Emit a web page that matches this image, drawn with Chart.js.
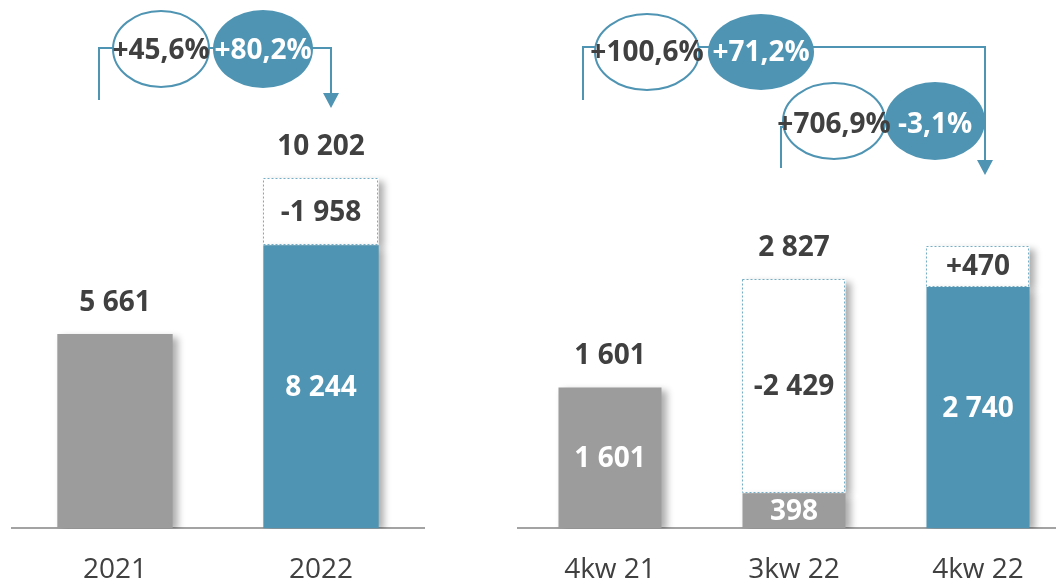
<!DOCTYPE html>
<html>
<head>
<meta charset="utf-8">
<script src="https://cdn.jsdelivr.net/npm/chart.js@4.4.1/dist/chart.umd.min.js"></script>
<style>
  html, body { margin: 0; padding: 0; background: #fff; overflow: hidden; width: 1056px; height: 582px; }
  canvas { position: absolute; top: 0; }
  #left { left: 0; }
  #right { left: 506px; }
</style>
</head>
<body>
<canvas id="left" width="440" height="626"></canvas>
<canvas id="right" width="580" height="626"></canvas>
<script>
// ---- data ----
var yearLabels = ['2021', '2022'];
var yearBase = [5661, 8244];
var yearChange = [null, -1958];
var yearTotals = [5661, 10202];
var yearInner = [null, 8244];
var yearGrowth = ['+45,6%', '+80,2%'];

var quarterLabels = ['4kw 21', '3kw 22', '4kw 22'];
var quarterBase = [1601, 398, 2740];
var quarterChange = [null, -2429, 470];
var quarterTotals = [1601, 2827, null];
var quarterInner = [1601, 398, 2740];
var quarterGrowthTop = ['+100,6%', '+71,2%'];
var quarterGrowthMid = ['+706,9%', '-3,1%'];

var GRAY = '#9c9c9c';
var BLUE = '#4f94b3';
var DARK = '#404040';
var FONT = '"Open Sans", sans-serif';

function fmt(v) {
  var s = String(Math.abs(v)).replace(/\B(?=(\d{3})+(?!\d))/g, ' ');
  return s;
}
function signed(v) {
  return (v < 0 ? '-' : '+') + fmt(v);
}

/*-- shadow for bars --*/
var shadowPlugin = {
  id: 'shadow',
  beforeDatasetDraw: function (chart) {
    var ctx = chart.ctx;
    ctx.save();
    ctx.shadowColor = 'rgba(0,0,0,0.32)';
    ctx.shadowBlur = 7;
    ctx.shadowOffsetX = 5;
    ctx.shadowOffsetY = 3;
  },
  afterDatasetDraw: function (chart) {
    chart.ctx.restore();
  }
};

/*-- dashed boxes and value labels --*/
var labelPlugin = {
  id: 'labels',
  afterDatasetsDraw: function (chart, args, opts) {
    var ctx = chart.ctx;
    var base = chart.getDatasetMeta(0).data;
    var chg = chart.getDatasetMeta(1).data;
    ctx.save();
    // dashed outline of change boxes
    ctx.strokeStyle = '#74adc6';
    ctx.lineWidth = 1;
    ctx.setLineDash([2, 2]);
    chg.forEach(function (el, i) {
      if (opts.change[i] == null) return;
      var w = el.width;
      ctx.strokeRect(Math.round(el.x - w / 2) + 0.5, Math.round(el.y) + 0.5, Math.round(w) - 1, Math.round(el.base - el.y) - 1);
    });
    ctx.setLineDash([]);
    ctx.textAlign = 'center';
    ctx.textBaseline = 'middle';
    ctx.font = 'bold 28px ' + FONT;
    base.forEach(function (el, i) {
      if (opts.inner[i] != null) {
        ctx.fillStyle = '#fff';
        ctx.fillText(fmt(opts.inner[i]), el.x, (el.y + el.base) / 2 + 1);
      }
      var c = chg[i];
      if (opts.change[i] != null) {
        ctx.fillStyle = DARK;
        ctx.fillText(signed(opts.change[i]), c.x, (c.y + c.base) / 2 + 1);
      }
      if (opts.totals[i] != null) {
        var top = opts.change[i] != null ? c.y : el.y;
        ctx.fillStyle = DARK;
        ctx.fillText(fmt(opts.totals[i]), el.x, top - 31);
      }
    });
    ctx.restore();
  }
};

function ellipse(ctx, x, y, rx, ry, filled) {
  ctx.beginPath();
  ctx.ellipse(x, y, rx, ry, 0, 0, Math.PI * 2);
  if (filled) {
    ctx.fillStyle = BLUE;
    ctx.fill();
  } else {
    ctx.fillStyle = '#fff';
    ctx.fill();
    ctx.strokeStyle = BLUE;
    ctx.lineWidth = 2;
    ctx.stroke();
  }
}
function arrowHead(ctx, x, tip) {
  ctx.beginPath();
  ctx.moveTo(x - 8, tip - 15);
  ctx.lineTo(x + 8, tip - 15);
  ctx.lineTo(x, tip);
  ctx.closePath();
  ctx.fillStyle = BLUE;
  ctx.fill();
}
function growthText(ctx, txt, x, y, white) {
  ctx.font = 'bold 28px ' + FONT;
  ctx.textAlign = 'center';
  ctx.textBaseline = 'middle';
  ctx.fillStyle = white ? '#fff' : DARK;
  ctx.fillText(txt, x, y);
}

/*-- growth bubbles, left chart --*/
var yearGrowthPlugin = {
  id: 'yearGrowth',
  afterDraw: function (chart) {
    var ctx = chart.ctx;
    var b = chart.getDatasetMeta(0).data;
    var x0 = b[0].x, x1 = b[1].x;
    ctx.save();
    ctx.strokeStyle = BLUE;
    ctx.lineWidth = 2;
    ctx.beginPath();
    ctx.moveTo(x0 - 16, 100);
    ctx.lineTo(x0 - 16, 48);
    ctx.lineTo(x1 + 10, 48);
    ctx.lineTo(x1 + 10, 94);
    ctx.stroke();
    arrowHead(ctx, x1 + 10, 108);
    ellipse(ctx, x0 + 46, 49, 48, 38, false);
    ellipse(ctx, x1 - 58, 49, 50, 39, true);
    growthText(ctx, yearGrowth[0], x0 + 46, 51, false);
    growthText(ctx, yearGrowth[1], x1 - 58, 51, true);
    ctx.restore();
  }
};

/*-- growth bubbles, right chart --*/
var quarterGrowthPlugin = {
  id: 'quarterGrowth',
  afterDraw: function (chart) {
    var ctx = chart.ctx;
    var b = chart.getDatasetMeta(0).data;
    var x0 = b[0].x, x1 = b[1].x, x2 = b[2].x;
    ctx.save();
    ctx.strokeStyle = BLUE;
    ctx.lineWidth = 2;
    ctx.beginPath();
    ctx.moveTo(x0 - 27, 100);
    ctx.lineTo(x0 - 27, 47);
    ctx.lineTo(x2 + 7, 47);
    ctx.lineTo(x2 + 7, 162);
    ctx.stroke();
    arrowHead(ctx, x2 + 7, 175);
    ctx.beginPath();
    ctx.moveTo(x1 - 13, 168);
    ctx.lineTo(x1 - 13, 127);
    ctx.lineTo(x1 + 5, 127);
    ctx.stroke();
    ellipse(ctx, x0 + 37, 52, 52, 38, false);
    ellipse(ctx, x1 - 33, 52, 53, 38, true);
    ellipse(ctx, x1 + 40, 121, 51, 38, false);
    ellipse(ctx, x2 - 43, 121, 50, 39, true);
    growthText(ctx, quarterGrowthTop[0], x0 + 37, 53, false);
    growthText(ctx, quarterGrowthTop[1], x1 - 33, 53, true);
    growthText(ctx, quarterGrowthMid[0], x1 + 40, 125, false);
    growthText(ctx, quarterGrowthMid[1], x2 - 43, 125, true);
    ctx.restore();
  }
};

function makeChart(id, labels, baseVals, changeVals, colors, yMax, labelOpts, growthPlugin) {
  return new Chart(document.getElementById(id), {
    type: 'bar',
    data: {
      labels: labels,
      datasets: [{
        data: baseVals,
        backgroundColor: colors,
        borderWidth: 0,
        barPercentage: 0.56,
        categoryPercentage: 1
      }, {
        data: changeVals.map(function (v) { return v == null ? null : Math.abs(v); }),
        backgroundColor: '#fff',
        borderWidth: 0,
        barPercentage: 0.56,
        categoryPercentage: 1
      }]
    },
    options: {
      responsive: false,
      animation: false,
      layout: { padding: { left: 12, right: 16, top: 0, bottom: 14 } },
      plugins: {
        legend: { display: false },
        tooltip: { enabled: false },
        labels: labelOpts
      },
      scales: {
        x: {
          stacked: true,
          grid: { display: false, drawTicks: false },
          border: { display: true, color: '#a3a3a3', width: 2 },
          ticks: { color: DARK, padding: 25, font: { family: FONT, size: 28 } }
        },
        y: {
          stacked: true,
          display: false,
          min: 0,
          max: yMax
        }
      }
    },
    plugins: [shadowPlugin, labelPlugin, growthPlugin]
  });
}

makeChart('left', yearLabels, yearBase, yearChange, [GRAY, BLUE], 15380,
  { change: yearChange, totals: yearTotals, inner: yearInner }, yearGrowthPlugin);
makeChart('right', quarterLabels, quarterBase, quarterChange, [GRAY, GRAY, BLUE], 6000,
  { change: quarterChange, totals: quarterTotals, inner: quarterInner }, quarterGrowthPlugin);
</script>
</body>
</html>
